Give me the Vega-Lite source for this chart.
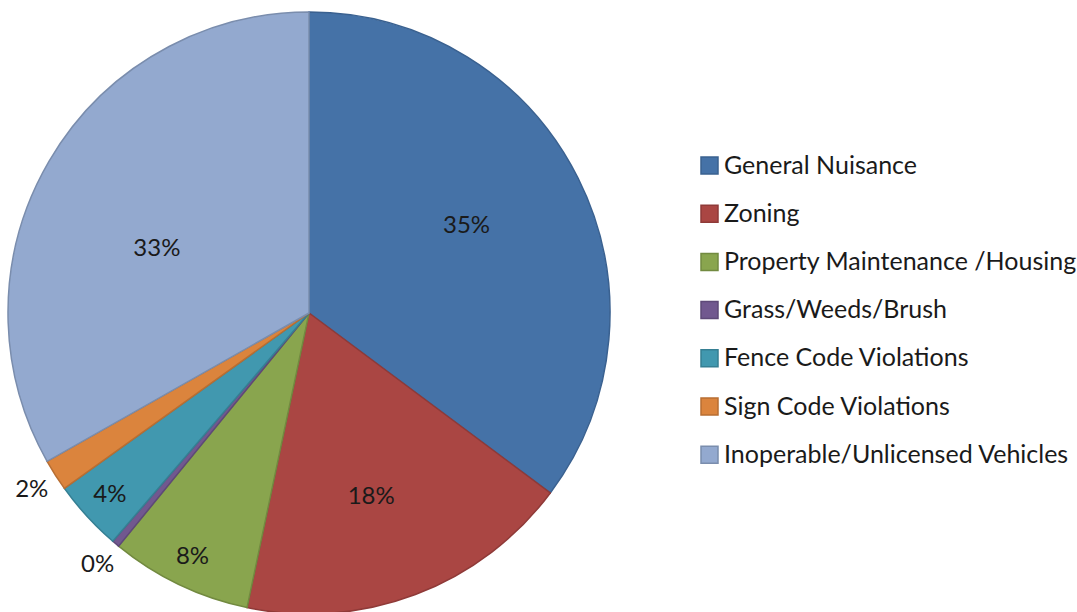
{
  "$schema": "https://vega.github.io/schema/vega-lite/v6.json",
  "width": 618,
  "height": 600,
  "padding": {"top": 9, "left": 0, "right": 0, "bottom": 3},
  "background": "white",
  "config": {"view": {"stroke": null}, "font": "Lato"},
  "data": {
    "values": [
      {"order": 1, "category": "General Nuisance", "value": 35.2, "label": "35%"},
      {"order": 2, "category": "Zoning", "value": 18.1, "label": "18%"},
      {"order": 3, "category": "Property Maintenance /Housing", "value": 7.6, "label": "8%"},
      {"order": 4, "category": "Grass/Weeds/Brush", "value": 0.4, "label": "0%"},
      {"order": 5, "category": "Fence Code Violations", "value": 3.8, "label": "4%"},
      {"order": 6, "category": "Sign Code Violations", "value": 1.7, "label": "2%"},
      {"order": 7, "category": "Inoperable/Unlicensed Vehicles", "value": 33.2, "label": "33%"}
    ]
  },
  "encoding": {
    "theta": {"field": "value", "type": "quantitative", "stack": true},
    "order": {"field": "order", "type": "quantitative"}
  },
  "layer": [
    {
      "mark": {"type": "arc", "outerRadius": 301, "strokeWidth": 1.5},
      "encoding": {
        "color": {
          "field": "category", "type": "nominal",
          "scale": {
            "domain": ["General Nuisance", "Zoning", "Property Maintenance /Housing", "Grass/Weeds/Brush", "Fence Code Violations", "Sign Code Violations", "Inoperable/Unlicensed Vehicles"],
            "range": ["#4572A7", "#AA4643", "#89A54E", "#71588F", "#4198AF", "#DB843D", "#93A9CF"]
          },
          "sort": null,
          "legend": {
            "title": null,
            "orient": "none",
            "legendX": 697,
            "legendY": 140,
            "padding": 0,
            "symbolType": "square",
            "symbolSize": 289,
            "symbolStrokeWidth": 1.5,
            "symbolOpacity": 1,
            "labelFont": "Lato",
            "labelFontSize": 25,
            "labelColor": "#1a1a1a",
            "labelOffset": 2,
            "labelLimit": 400,
            "rowPadding": 22.2
          }
        },
        "stroke": {
          "field": "category", "type": "nominal",
          "scale": {
            "domain": ["General Nuisance", "Zoning", "Property Maintenance /Housing", "Grass/Weeds/Brush", "Fence Code Violations", "Sign Code Violations", "Inoperable/Unlicensed Vehicles"],
            "range": ["#3A6190", "#8F3A38", "#728A40", "#5E4978", "#357F93", "#B86E32", "#7A8DAD"]
          },
          "sort": null,
          "legend": {
            "title": null,
            "orient": "none",
            "legendX": 697,
            "legendY": 140,
            "padding": 0,
            "symbolType": "square",
            "symbolSize": 289,
            "symbolStrokeWidth": 1.5,
            "labelFont": "Lato",
            "labelFontSize": 25,
            "labelColor": "#1a1a1a",
            "labelOffset": 2,
            "labelLimit": 400,
            "rowPadding": 22.2
          }
        }
      }
    },
    {
      "mark": {"type": "text", "radius": 180, "thetaOffset": -0.04, "fontSize": 24, "font": "Lato", "color": "#1a1a1a"},
      "encoding": {
        "text": {"condition": {"test": "datum.order == 1", "field": "label"}, "value": ""}
      }
    },
    {
      "mark": {"type": "text", "radius": 194, "thetaOffset": 0.035, "fontSize": 24, "font": "Lato", "color": "#1a1a1a"},
      "encoding": {
        "text": {"condition": {"test": "datum.order == 2", "field": "label"}, "value": ""}
      }
    },
    {
      "mark": {"type": "text", "radius": 165, "thetaOffset": -0.13, "fontSize": 24, "font": "Lato", "color": "#1a1a1a"},
      "encoding": {
        "text": {"condition": {"test": "datum.order == 7", "field": "label"}, "value": ""}
      }
    },
    {
      "mark": {"type": "text", "radius": 270, "fontSize": 24, "font": "Lato", "color": "#1a1a1a"},
      "encoding": {
        "text": {"condition": {"test": "datum.order == 3 || datum.order == 5", "field": "label"}, "value": ""}
      }
    },
    {
      "mark": {"type": "text", "radius": 329, "fontSize": 24, "font": "Lato", "color": "#1a1a1a"},
      "encoding": {
        "text": {"condition": {"test": "datum.order == 4 || datum.order == 6", "field": "label"}, "value": ""}
      }
    }
  ]
}
